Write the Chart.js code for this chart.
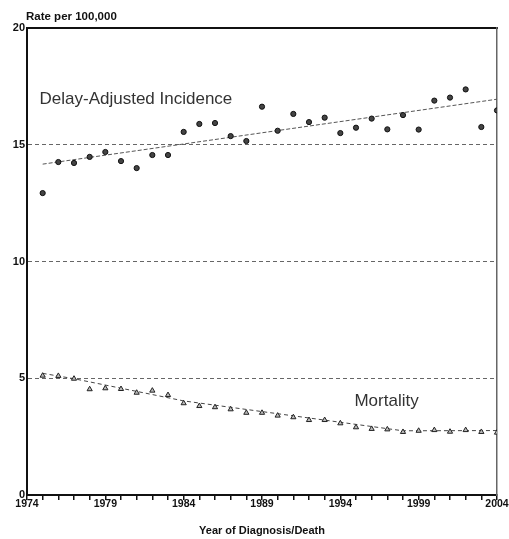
<!DOCTYPE html>
<html>
<head>
<meta charset="utf-8">
<script src="https://cdn.jsdelivr.net/npm/chart.js@4/dist/chart.umd.min.js"></script>
<style>
  html, body { margin: 0; padding: 0; background: #fff; }
  #wrap { width: 509px; height: 539px; }
</style>
</head>
<body>
<div id="wrap"><canvas id="rates"></canvas></div>
<script>
var years = [1975, 1976, 1977, 1978, 1979, 1980, 1981, 1982, 1983, 1984,
             1985, 1986, 1987, 1988, 1989, 1990, 1991, 1992, 1993, 1994,
             1995, 1996, 1997, 1998, 1999, 2000, 2001, 2002, 2003, 2004];
var incidence = [12.93, 14.26, 14.22, 14.48, 14.69, 14.30, 14.00, 14.56, 14.56, 15.55,
                 15.89, 15.93, 15.37, 15.16, 16.63, 15.60, 16.32, 15.97, 16.16, 15.50,
                 15.73, 16.12, 15.66, 16.27, 15.65, 16.89, 17.02, 17.37, 15.76, 16.47];
var mortality = [5.11, 5.10, 4.98, 4.53, 4.57, 4.54, 4.38, 4.47, 4.28, 3.93,
                 3.81, 3.76, 3.67, 3.52, 3.52, 3.40, 3.33, 3.21, 3.21, 3.07,
                 2.90, 2.83, 2.81, 2.70, 2.75, 2.78, 2.71, 2.78, 2.70, 2.67];
var incTrendYears = [1975, 2004];
var incTrend = [14.17, 16.95];
var morTrendYears = [1975, 1977, 1984, 1998, 2004];
var morTrend = [5.21, 4.98, 4.03, 2.75, 2.76];
var yTicks = [0, 5, 10, 15, 20];
var xLabelYears = [1974, 1979, 1984, 1989, 1994, 1999, 2004];

function pts(xs, ys) {
    return xs.map(function (x, i) { return {x: x, y: ys[i]}; });
}

var FONT = '"Liberation Sans", Arial, sans-serif';

// labels written inside the plot, placed in data units
var notes = {
    id: 'notes',
    afterDraw: function (chart) {
        var c = chart.ctx, xs = chart.scales.x, ys = chart.scales.y;
        c.save();
        c.fillStyle = '#333';
        c.textBaseline = 'alphabetic';
        c.font = '17px ' + FONT;
        c.fillText('Delay-Adjusted Incidence', xs.getPixelForValue(1974.8), ys.getPixelForValue(16.75));
        c.fillText('Mortality', xs.getPixelForValue(1994.9), ys.getPixelForValue(3.83));
        c.fillStyle = '#111';
        c.font = 'bold 11.5px ' + FONT;
        c.fillText('Rate per 100,000', chart.chartArea.left - 1, chart.chartArea.top - 8);
        c.restore();
    }
};

new Chart(document.getElementById('rates').getContext('2d'), {
    type: 'scatter',
    data: {
        datasets: [{
            data: pts(years, incidence),
            pointStyle: 'circle',
            pointRadius: 2.6,
            backgroundColor: '#444',
            borderColor: '#111',
            borderWidth: 1
        }, {
            data: pts(incTrendYears, incTrend),
            type: 'line',
            showLine: true,
            pointRadius: 0,
            borderColor: '#555',
            borderWidth: 1,
            borderDash: [4, 2]
        }, {
            data: pts(years, mortality),
            pointStyle: 'triangle',
            pointRadius: 3,
            backgroundColor: '#bbb',
            borderColor: '#222',
            borderWidth: 1
        }, {
            data: pts(morTrendYears, morTrend),
            type: 'line',
            showLine: true,
            pointRadius: 0,
            borderColor: '#444',
            borderWidth: 1,
            borderDash: [4, 3]
        }]
    },
    options: {
        responsive: true,
        maintainAspectRatio: false,
        animation: false,
        layout: {
            padding: { left: 0, right: 12, top: 28, bottom: 0 }
        },
        plugins: {
            legend: { display: false },
            tooltip: { enabled: false }
        },
        scales: {
            x: {
                type: 'linear',
                position: 'bottom',
                min: 1974,
                max: 2004,
                afterBuildTicks: function (s) {
                    s.ticks = [1974].concat(years).map(function (v) { return {value: v}; });
                },
                afterFit: function (s) { s.height = 44; },
                ticks: {
                    autoSkip: false,
                    maxRotation: 0,
                    padding: -2,
                    color: '#111',
                    font: { family: FONT, size: 10.5, weight: 'bold' },
                    callback: function (v) { return xLabelYears.indexOf(v) >= 0 ? String(v) : ''; }
                },
                grid: {
                    drawOnChartArea: false,
                    drawTicks: true,
                    tickLength: 5,
                    color: '#111',
                    lineWidth: 1.5
                },
                border: { display: true, color: '#111', width: 2 },
                title: {
                    display: true,
                    text: 'Year of Diagnosis/Death',
                    color: '#111',
                    padding: { top: 0, bottom: 1 },
                    font: { family: FONT, size: 11, weight: 'bold' }
                }
            },
            xTop: {
                type: 'linear',
                position: 'top',
                min: 1974,
                max: 2004,
                afterFit: function (s) { s.height = 0; },
                ticks: { display: false },
                grid: { display: false },
                border: { display: true, color: '#111', width: 2 }
            },
            y: {
                min: 0,
                max: 20,
                afterBuildTicks: function (s) {
                    s.ticks = yTicks.map(function (v) { return {value: v}; });
                },
                afterFit: function (s) { s.width = 27; },
                ticks: {
                    padding: 2,
                    color: '#111',
                    font: { family: FONT, size: 11, weight: 'bold' }
                },
                grid: {
                    drawTicks: false,
                    color: function (ctx) {
                        var v = ctx.tick && ctx.tick.value;
                        return (v === 0 || v === 20) ? 'rgba(0,0,0,0)' : '#666';
                    },
                    lineWidth: 1
                },
                // in v4 border.dash also dashes the grid lines
                border: { display: true, color: '#111', width: 2, dash: [4, 3] }
            },
            yRight: {
                position: 'right',
                min: 0,
                max: 20,
                afterFit: function (s) { s.width = 0; },
                ticks: { display: false },
                grid: { display: false },
                border: { display: true, color: '#666', width: 1.5 }
            }
        }
    },
    plugins: [notes]
});
</script>
</body>
</html>
